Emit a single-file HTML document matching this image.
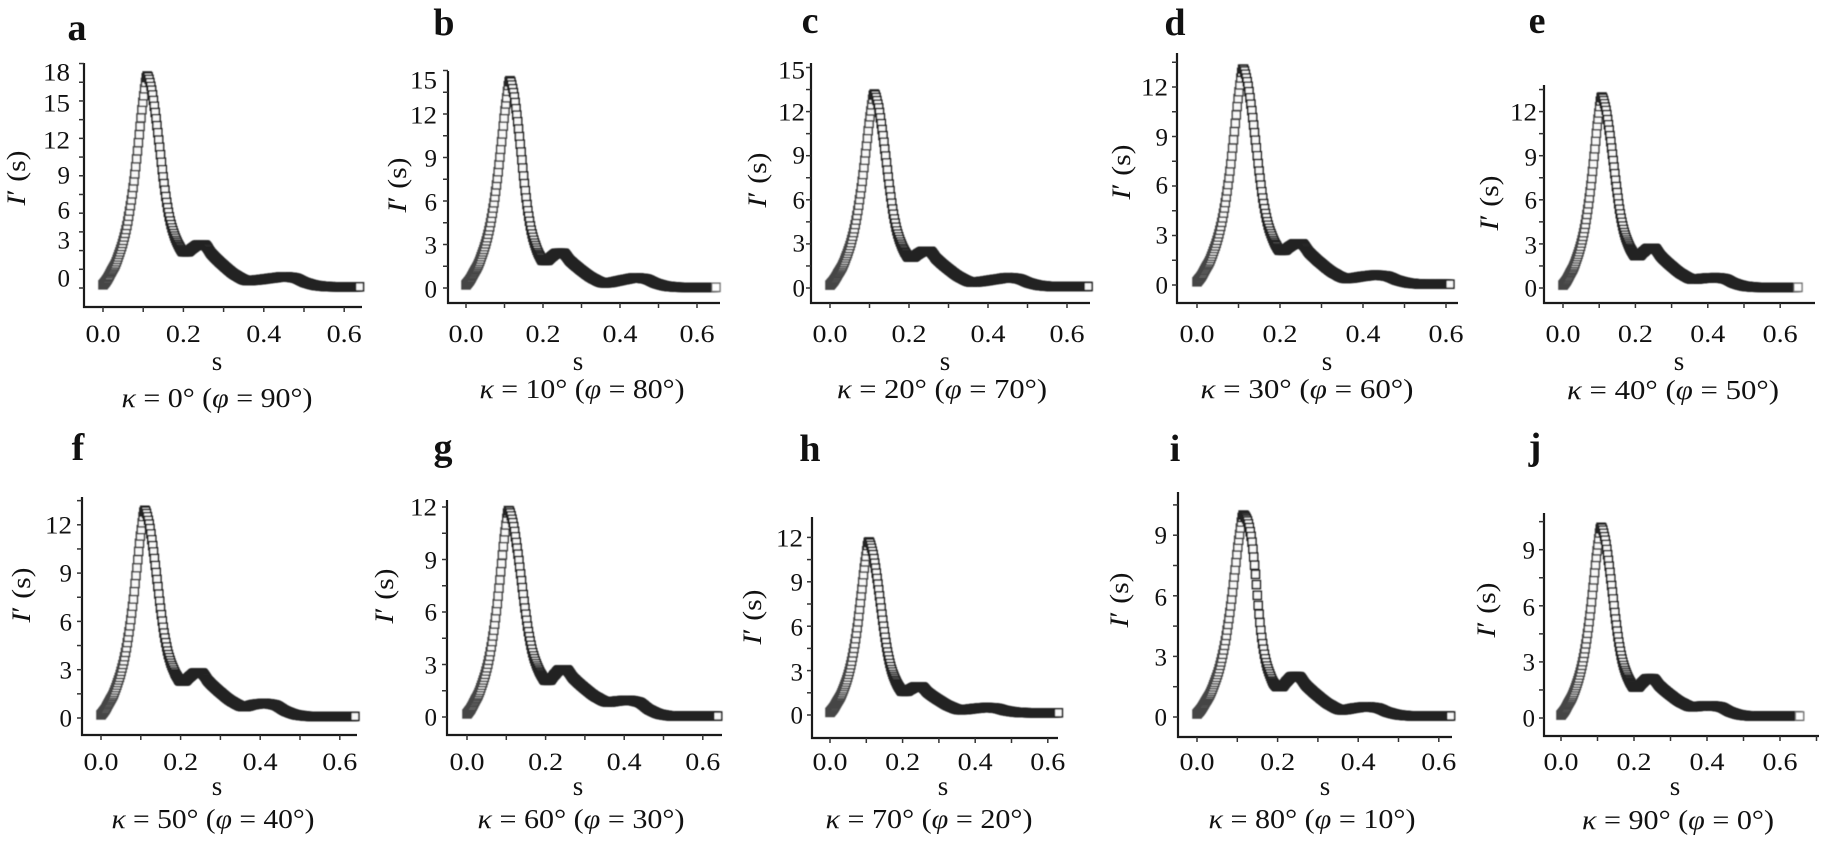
<!DOCTYPE html>
<html><head><meta charset="utf-8">
<style>
html,body{margin:0;padding:0;background:#fff;}
svg{display:block;}
text{font-family:"Liberation Serif","DejaVu Serif",serif;fill:#111;}
.lt{font-size:38px;font-weight:bold;text-anchor:middle;}
.tk{font-size:25px;}
.yt{text-anchor:end;}
.xt{text-anchor:middle;}
.cap{font-size:27px;text-anchor:middle;}
.sl{font-size:27px;text-anchor:middle;}
.yl{font-size:26px;text-anchor:middle;}
</style></head><body>
<svg id="fig" width="1822" height="846" viewBox="0 0 1822 846" xmlns="http://www.w3.org/2000/svg">
<defs><filter id="soft" x="-5%" y="-5%" width="110%" height="110%"><feGaussianBlur stdDeviation="0.5"/></filter></defs>
<rect width="1822" height="846" fill="#fff"/>
<g id="axes"></g>
<g id="plots" filter="url(#soft)"></g>

<!-- panel letters -->
<text class="lt" x="77" y="40">a</text>
<text class="lt" x="444" y="35">b</text>
<text class="lt" x="810" y="33">c</text>
<text class="lt" x="1175" y="35">d</text>
<text class="lt" x="1537" y="33">e</text>
<text class="lt" x="78" y="460">f</text>
<text class="lt" x="443" y="460">g</text>
<text class="lt" x="810" y="461">h</text>
<text class="lt" x="1175" y="461">i</text>
<text class="lt" x="1535" y="459">j</text>

<!-- y axis titles -->
<text class="yl" transform="translate(25,178) rotate(-90)" textLength="55" lengthAdjust="spacingAndGlyphs"><tspan font-style="italic">I</tspan>′ (s)</text>
<text class="yl" transform="translate(406,185) rotate(-90)" textLength="55" lengthAdjust="spacingAndGlyphs"><tspan font-style="italic">I</tspan>′ (s)</text>
<text class="yl" transform="translate(766,180) rotate(-90)" textLength="55" lengthAdjust="spacingAndGlyphs"><tspan font-style="italic">I</tspan>′ (s)</text>
<text class="yl" transform="translate(1130,172) rotate(-90)" textLength="55" lengthAdjust="spacingAndGlyphs"><tspan font-style="italic">I</tspan>′ (s)</text>
<text class="yl" transform="translate(1498,203) rotate(-90)" textLength="55" lengthAdjust="spacingAndGlyphs"><tspan font-style="italic">I</tspan>′ (s)</text>
<text class="yl" transform="translate(30,595) rotate(-90)" textLength="55" lengthAdjust="spacingAndGlyphs"><tspan font-style="italic">I</tspan>′ (s)</text>
<text class="yl" transform="translate(393,596) rotate(-90)" textLength="55" lengthAdjust="spacingAndGlyphs"><tspan font-style="italic">I</tspan>′ (s)</text>
<text class="yl" transform="translate(761,617) rotate(-90)" textLength="55" lengthAdjust="spacingAndGlyphs"><tspan font-style="italic">I</tspan>′ (s)</text>
<text class="yl" transform="translate(1128,600) rotate(-90)" textLength="55" lengthAdjust="spacingAndGlyphs"><tspan font-style="italic">I</tspan>′ (s)</text>
<text class="yl" transform="translate(1495,610) rotate(-90)" textLength="55" lengthAdjust="spacingAndGlyphs"><tspan font-style="italic">I</tspan>′ (s)</text>

<!-- y tick labels -->
<g>
<text class="tk yt" x="70" y="80.5" textLength="27" lengthAdjust="spacingAndGlyphs">18</text>
<text class="tk yt" x="70" y="111.5" textLength="27" lengthAdjust="spacingAndGlyphs">15</text>
<text class="tk yt" x="70" y="148.5" textLength="27" lengthAdjust="spacingAndGlyphs">12</text>
<text class="tk yt" x="70" y="183.5">9</text>
<text class="tk yt" x="70" y="218.5">6</text>
<text class="tk yt" x="70" y="248.5">3</text>
<text class="tk yt" x="70" y="286.5">0</text>

<text class="tk yt" x="437" y="88.5" textLength="27" lengthAdjust="spacingAndGlyphs">15</text>
<text class="tk yt" x="437" y="123.5" textLength="27" lengthAdjust="spacingAndGlyphs">12</text>
<text class="tk yt" x="437" y="166.5">9</text>
<text class="tk yt" x="437" y="210.5">6</text>
<text class="tk yt" x="437" y="253.5">3</text>
<text class="tk yt" x="437" y="297.5">0</text>

<text class="tk yt" x="805" y="78.5" textLength="27" lengthAdjust="spacingAndGlyphs">15</text>
<text class="tk yt" x="805" y="120.5" textLength="27" lengthAdjust="spacingAndGlyphs">12</text>
<text class="tk yt" x="805" y="163.5">9</text>
<text class="tk yt" x="805" y="208.5">6</text>
<text class="tk yt" x="805" y="251.5">3</text>
<text class="tk yt" x="805" y="296.5">0</text>

<text class="tk yt" x="1168" y="95.5" textLength="27" lengthAdjust="spacingAndGlyphs">12</text>
<text class="tk yt" x="1168" y="145.5">9</text>
<text class="tk yt" x="1168" y="193.5">6</text>
<text class="tk yt" x="1168" y="243.5">3</text>
<text class="tk yt" x="1168" y="293.5">0</text>

<text class="tk yt" x="1537" y="120.5" textLength="27" lengthAdjust="spacingAndGlyphs">12</text>
<text class="tk yt" x="1537" y="165.5">9</text>
<text class="tk yt" x="1537" y="208.5">6</text>
<text class="tk yt" x="1537" y="253.5">3</text>
<text class="tk yt" x="1537" y="296.5">0</text>

<text class="tk yt" x="72" y="533.5" textLength="27" lengthAdjust="spacingAndGlyphs">12</text>
<text class="tk yt" x="72" y="581.5">9</text>
<text class="tk yt" x="72" y="630.5">6</text>
<text class="tk yt" x="72" y="678.5">3</text>
<text class="tk yt" x="72" y="726.5">0</text>

<text class="tk yt" x="437" y="515.5" textLength="27" lengthAdjust="spacingAndGlyphs">12</text>
<text class="tk yt" x="437" y="568.5">9</text>
<text class="tk yt" x="437" y="620.5">6</text>
<text class="tk yt" x="437" y="673.5">3</text>
<text class="tk yt" x="437" y="725.5">0</text>

<text class="tk yt" x="803" y="546.5" textLength="27" lengthAdjust="spacingAndGlyphs">12</text>
<text class="tk yt" x="803" y="590.5">9</text>
<text class="tk yt" x="803" y="635.5">6</text>
<text class="tk yt" x="803" y="680.5">3</text>
<text class="tk yt" x="803" y="723.5">0</text>

<text class="tk yt" x="1167" y="543.5">9</text>
<text class="tk yt" x="1167" y="605.5">6</text>
<text class="tk yt" x="1167" y="665.5">3</text>
<text class="tk yt" x="1167" y="725.5">0</text>

<text class="tk yt" x="1535" y="558.5">9</text>
<text class="tk yt" x="1535" y="615.5">6</text>
<text class="tk yt" x="1535" y="670.5">3</text>
<text class="tk yt" x="1535" y="726.5">0</text>
</g>

<!-- x tick labels -->
<g>
<text class="tk xt" x="103" y="342" textLength="35" lengthAdjust="spacingAndGlyphs">0.0</text>
<text class="tk xt" x="183.4" y="342" textLength="35" lengthAdjust="spacingAndGlyphs">0.2</text>
<text class="tk xt" x="263.8" y="342" textLength="35" lengthAdjust="spacingAndGlyphs">0.4</text>
<text class="tk xt" x="344.2" y="342" textLength="35" lengthAdjust="spacingAndGlyphs">0.6</text>

<text class="tk xt" x="466" y="342" textLength="35" lengthAdjust="spacingAndGlyphs">0.0</text>
<text class="tk xt" x="543" y="342" textLength="35" lengthAdjust="spacingAndGlyphs">0.2</text>
<text class="tk xt" x="620" y="342" textLength="35" lengthAdjust="spacingAndGlyphs">0.4</text>
<text class="tk xt" x="697" y="342" textLength="35" lengthAdjust="spacingAndGlyphs">0.6</text>

<text class="tk xt" x="830" y="342" textLength="35" lengthAdjust="spacingAndGlyphs">0.0</text>
<text class="tk xt" x="909" y="342" textLength="35" lengthAdjust="spacingAndGlyphs">0.2</text>
<text class="tk xt" x="988" y="342" textLength="35" lengthAdjust="spacingAndGlyphs">0.4</text>
<text class="tk xt" x="1067" y="342" textLength="35" lengthAdjust="spacingAndGlyphs">0.6</text>

<text class="tk xt" x="1197" y="342" textLength="35" lengthAdjust="spacingAndGlyphs">0.0</text>
<text class="tk xt" x="1280" y="342" textLength="35" lengthAdjust="spacingAndGlyphs">0.2</text>
<text class="tk xt" x="1363" y="342" textLength="35" lengthAdjust="spacingAndGlyphs">0.4</text>
<text class="tk xt" x="1446" y="342" textLength="35" lengthAdjust="spacingAndGlyphs">0.6</text>

<text class="tk xt" x="1563" y="342" textLength="35" lengthAdjust="spacingAndGlyphs">0.0</text>
<text class="tk xt" x="1635.4" y="342" textLength="35" lengthAdjust="spacingAndGlyphs">0.2</text>
<text class="tk xt" x="1707.8" y="342" textLength="35" lengthAdjust="spacingAndGlyphs">0.4</text>
<text class="tk xt" x="1780.2" y="342" textLength="35" lengthAdjust="spacingAndGlyphs">0.6</text>

<text class="tk xt" x="101" y="770" textLength="35" lengthAdjust="spacingAndGlyphs">0.0</text>
<text class="tk xt" x="180.6" y="770" textLength="35" lengthAdjust="spacingAndGlyphs">0.2</text>
<text class="tk xt" x="260.2" y="770" textLength="35" lengthAdjust="spacingAndGlyphs">0.4</text>
<text class="tk xt" x="339.8" y="770" textLength="35" lengthAdjust="spacingAndGlyphs">0.6</text>

<text class="tk xt" x="467" y="770" textLength="35" lengthAdjust="spacingAndGlyphs">0.0</text>
<text class="tk xt" x="545.6" y="770" textLength="35" lengthAdjust="spacingAndGlyphs">0.2</text>
<text class="tk xt" x="624.2" y="770" textLength="35" lengthAdjust="spacingAndGlyphs">0.4</text>
<text class="tk xt" x="702.8" y="770" textLength="35" lengthAdjust="spacingAndGlyphs">0.6</text>

<text class="tk xt" x="830" y="770" textLength="35" lengthAdjust="spacingAndGlyphs">0.0</text>
<text class="tk xt" x="902.6" y="770" textLength="35" lengthAdjust="spacingAndGlyphs">0.2</text>
<text class="tk xt" x="975.2" y="770" textLength="35" lengthAdjust="spacingAndGlyphs">0.4</text>
<text class="tk xt" x="1047.8" y="770" textLength="35" lengthAdjust="spacingAndGlyphs">0.6</text>

<text class="tk xt" x="1197" y="770" textLength="35" lengthAdjust="spacingAndGlyphs">0.0</text>
<text class="tk xt" x="1277.6" y="770" textLength="35" lengthAdjust="spacingAndGlyphs">0.2</text>
<text class="tk xt" x="1358.2" y="770" textLength="35" lengthAdjust="spacingAndGlyphs">0.4</text>
<text class="tk xt" x="1438.8" y="770" textLength="35" lengthAdjust="spacingAndGlyphs">0.6</text>

<text class="tk xt" x="1561" y="770" textLength="35" lengthAdjust="spacingAndGlyphs">0.0</text>
<text class="tk xt" x="1634" y="770" textLength="35" lengthAdjust="spacingAndGlyphs">0.2</text>
<text class="tk xt" x="1707" y="770" textLength="35" lengthAdjust="spacingAndGlyphs">0.4</text>
<text class="tk xt" x="1780" y="770" textLength="35" lengthAdjust="spacingAndGlyphs">0.6</text>
</g>

<!-- x axis titles -->
<text class="sl" x="217" y="370">s</text>
<text class="sl" x="578" y="370">s</text>
<text class="sl" x="945" y="370">s</text>
<text class="sl" x="1327" y="370">s</text>
<text class="sl" x="1679" y="370">s</text>
<text class="sl" x="217" y="795">s</text>
<text class="sl" x="578" y="795">s</text>
<text class="sl" x="943" y="795">s</text>
<text class="sl" x="1325" y="795">s</text>
<text class="sl" x="1675" y="795">s</text>

<!-- captions -->
<text class="cap" x="217" y="407" textLength="191" lengthAdjust="spacingAndGlyphs"><tspan font-style="italic">κ</tspan> = 0° (<tspan font-style="italic">φ</tspan> = 90°)</text>
<text class="cap" x="582" y="398" textLength="205" lengthAdjust="spacingAndGlyphs"><tspan font-style="italic">κ</tspan> = 10° (<tspan font-style="italic">φ</tspan> = 80°)</text>
<text class="cap" x="942" y="398" textLength="210" lengthAdjust="spacingAndGlyphs"><tspan font-style="italic">κ</tspan> = 20° (<tspan font-style="italic">φ</tspan> = 70°)</text>
<text class="cap" x="1307" y="398" textLength="213" lengthAdjust="spacingAndGlyphs"><tspan font-style="italic">κ</tspan> = 30° (<tspan font-style="italic">φ</tspan> = 60°)</text>
<text class="cap" x="1673" y="399" textLength="212" lengthAdjust="spacingAndGlyphs"><tspan font-style="italic">κ</tspan> = 40° (<tspan font-style="italic">φ</tspan> = 50°)</text>
<text class="cap" x="213" y="828" textLength="203" lengthAdjust="spacingAndGlyphs"><tspan font-style="italic">κ</tspan> = 50° (<tspan font-style="italic">φ</tspan> = 40°)</text>
<text class="cap" x="581" y="828" textLength="207" lengthAdjust="spacingAndGlyphs"><tspan font-style="italic">κ</tspan> = 60° (<tspan font-style="italic">φ</tspan> = 30°)</text>
<text class="cap" x="929" y="828" textLength="207" lengthAdjust="spacingAndGlyphs"><tspan font-style="italic">κ</tspan> = 70° (<tspan font-style="italic">φ</tspan> = 20°)</text>
<text class="cap" x="1312" y="828" textLength="207" lengthAdjust="spacingAndGlyphs"><tspan font-style="italic">κ</tspan> = 80° (<tspan font-style="italic">φ</tspan> = 10°)</text>
<text class="cap" x="1678" y="829" textLength="192" lengthAdjust="spacingAndGlyphs"><tspan font-style="italic">κ</tspan> = 90° (<tspan font-style="italic">φ</tspan> = 0°)</text>
</svg>
<script>
(function(){
var NS="http://www.w3.org/2000/svg";
var PN=[
 {x0:103,kx:402,y0:288,ky:12.47,ax:84,ay:307,top:63,right:362,P:17,ps:.11,D:2.9,B2:3.45,M:.6,B3:.9,b3:.45,T:.1,end:.64},
 {x0:466,kx:385,y0:288,ky:14.5,ax:448,ay:303,top:71,right:720,P:14.3,ps:.114,D:1.9,B2:2.4,M:.35,B3:.7,b3:.44,T:.05,end:.65,hollow:1},
 {x0:830,kx:395,y0:288,ky:14.7,ax:811,ay:303,top:63,right:1090,P:13.2,ps:.112,D:2.1,B2:2.5,M:.4,B3:.7,b3:.45,T:.1,end:.655},
 {x0:1197,kx:415,y0:285,ky:16.5,ax:1177,ay:303,top:53,right:1458,P:13.1,ps:.111,D:2.1,B2:2.5,M:.4,B3:.6,b3:.43,T:.05,end:.61},
 {x0:1563,kx:362,y0:288,ky:14.7,ax:1544,ay:303,top:85,right:1815,P:13,ps:.107,D:2.2,B2:2.7,M:.6,B3:.7,b3:.42,T:.05,end:.65,hollow:1},
 {x0:101,kx:398,y0:718,ky:16.1,ax:82,ay:735,top:497,right:357,P:12.9,ps:.11,D:2.3,B2:2.8,M:.7,B3:.9,b3:.41,T:.1,end:.64},
 {x0:467,kx:393,y0:717,ky:17.5,ax:447,ay:735,top:500,right:722,P:11.8,ps:.106,D:2.1,B2:2.7,M:.85,B3:.95,b3:.41,T:.05,end:.64},
 {x0:830,kx:363,y0:715,ky:14.8,ax:812,ay:738,top:517,right:1058,P:11.7,ps:.107,D:1.6,B2:1.9,M:.35,B3:.5,b3:.43,T:.15,end:.63},
 {x0:1197,kx:403,y0:717,ky:20.2,ax:1178,ay:737,top:492,right:1452,P:10,ps:.115,D:1.5,B2:2.0,M:.35,B3:.5,b3:.42,T:.05,end:.63,fall:[.97,.88,.70,.45,.26,.14,.07,.02]},
 {x0:1561,kx:365,y0:718,ky:18.7,ax:1544,ay:736,top:513,right:1819,P:10.2,ps:.11,D:1.65,B2:2.1,M:.6,B3:.65,b3:.41,T:.1,end:.655,hollow:1}
];
var axes=document.getElementById("axes"), plots=document.getElementById("plots");
function el(tag,attrs,parent){var e=document.createElementNS(NS,tag);for(var k in attrs)e.setAttribute(k,attrs[k]);parent.appendChild(e);return e;}
function mono(xs,ys){
 var n=xs.length,d=[],m=new Array(n),i;
 for(i=0;i<n-1;i++)d.push((ys[i+1]-ys[i])/(xs[i+1]-xs[i]));
 m[0]=d[0];m[n-1]=d[n-2];
 for(i=1;i<n-1;i++){
  if(d[i-1]*d[i]<=0)m[i]=0;
  else{var h0=xs[i]-xs[i-1],h1=xs[i+1]-xs[i];var w1=2*h1+h0,w2=h1+2*h0;m[i]=(w1+w2)/(w1/d[i-1]+w2/d[i]);}
 }
 return function(x){
  var j=0;while(j<n-2&&x>xs[j+1])j++;
  var h=xs[j+1]-xs[j],t=(x-xs[j])/h,t2=t*t,t3=t2*t;
  return (2*t3-3*t2+1)*ys[j]+(t3-2*t2+t)*h*m[j]+(-2*t3+3*t2)*ys[j+1]+(t3-t2)*h*m[j+1];
 };
}
function ctrl(p){
 var r=[.015,.04,.075,.11,.16,.22,.30,.41,.55,.72,.89,1.0],a=[],i;
 for(i=0;i<12;i++)a.push([i/11*p.ps,r[i]*p.P]);
 var f=p.fall||[.93,.79,.61,.42,.26,.15,.08,.03];
 var ds=(0.2-p.ps)/9;
 for(i=0;i<8;i++)a.push([p.ps+(i+1)*ds,p.D+(p.P-p.D)*f[i]]);
 a.push([0.2,p.D]);
 var D=p.D,B2=p.B2,M=p.M,B3=p.B3,T=p.T,b3=p.b3;
 a.push([0.21,D]);
 a.push([0.222,D+0.5*(B2-D)]);
 a.push([0.237,B2]);
 a.push([0.252,B2]);
 a.push([0.27,M+0.75*(B2-M)]);
 a.push([0.30,M+0.42*(B2-M)]);
 a.push([0.33,M+0.15*(B2-M)]);
 a.push([Math.min(0.36,b3-0.05),M]);
 a.push([b3-0.025,M+0.7*(B3-M)]);
 a.push([b3,B3]);
 a.push([b3+0.025,B3*0.9+T*0.1]);
 a.push([b3+0.055,T+0.4*(B3-T)]);
 a.push([b3+0.085,T+0.1*(B3-T)]);
 a.push([b3+0.12,T]);
 a.push([Math.max(p.end,b3+0.13),T]);
 return a;
}
PN.forEach(function(p){
 el("line",{x1:p.ax,y1:p.top,x2:p.ax,y2:p.ay+1,stroke:"#1a1a1a","stroke-width":2.2},axes);
 el("line",{x1:p.ax-1,y1:p.ay,x2:p.right,y2:p.ay,stroke:"#1a1a1a","stroke-width":2.2},axes);
 for(var v=-1.5;;v+=1.5){
  var y=p.y0-p.ky*v;
  if(y<p.top-0.5)break;
  if(y>p.ay-2)continue;
  el("line",{x1:p.ax-5,y1:y,x2:p.ax,y2:y,stroke:"#333","stroke-width":1.5},axes);
 }
 for(var s=0;s<=0.7001;s+=0.1){
  var x=p.x0+p.kx*s;
  if(x>p.right-1)break;
  el("line",{x1:x,y1:p.ay,x2:x,y2:p.ay+5,stroke:"#333","stroke-width":1.5},axes);
 }
 var c=ctrl(p),xs=c.map(function(q){return q[0];}),ys=c.map(function(q){return q[1];});
 var f=mono(xs,ys);
 var g=el("g",{},plots);
 var last=null;
 for(var t=0;t<=p.end+1e-9;t+=0.0022){
  var X=p.x0+p.kx*t,Y=p.y0-p.ky*f(t);
  var col=t<p.ps-0.004?"#454545":"#222";
  el("rect",{x:(X-4).toFixed(1),y:(Y-4).toFixed(1),width:8,height:8,fill:"#f8f8f8",stroke:col,"stroke-width":1.6},g);
  last=[X,Y];
 }
 if(p.hollow&&last){
  el("rect",{x:(last[0]-4).toFixed(1),y:(last[1]-4).toFixed(1),width:8,height:8,fill:"#fff",stroke:"#777","stroke-width":1.2},g);
 }
});
})();
</script>
</body></html>
